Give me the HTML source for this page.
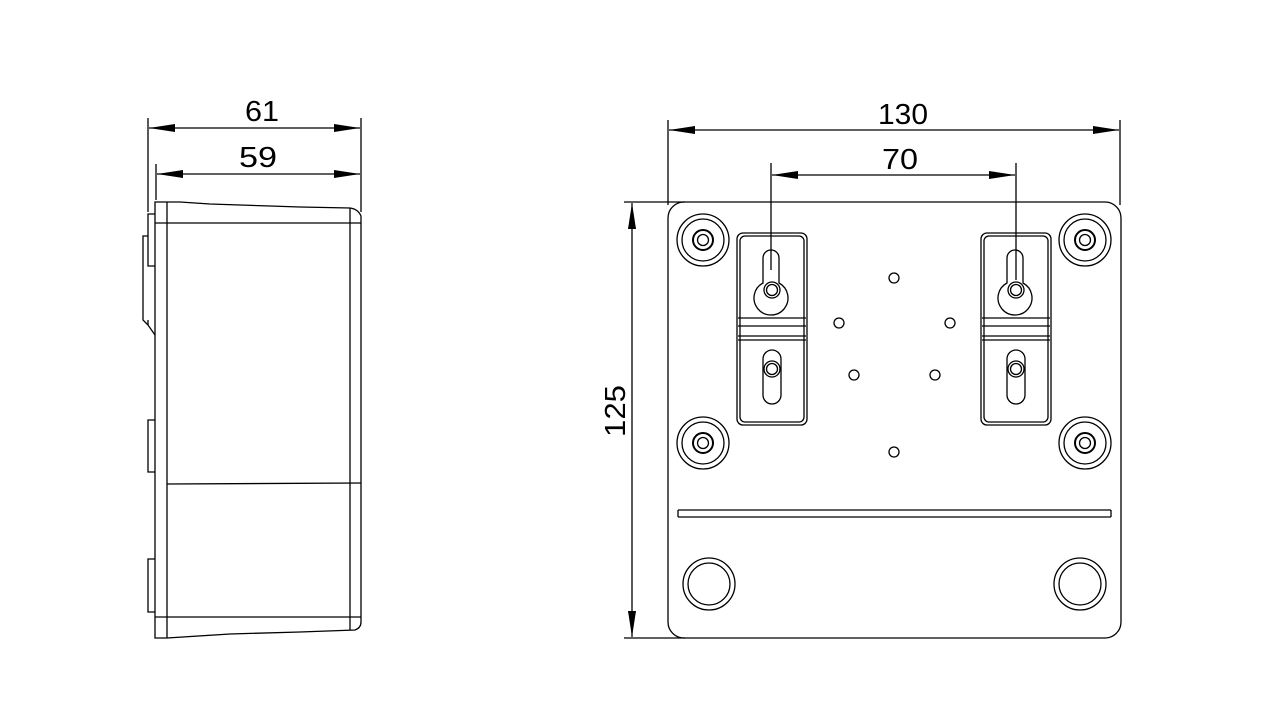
<!DOCTYPE html>
<html><head><style>body{margin:0;background:#fff}svg{display:block}</style></head><body>
<svg width="1281" height="720" viewBox="0 0 1281 720" xmlns="http://www.w3.org/2000/svg" font-family="Liberation Sans, sans-serif">
<defs><marker id="a" markerWidth="26" markerHeight="8" refX="26" refY="4" orient="auto" markerUnits="userSpaceOnUse"><path d="M0,0 L26,4 L0,8 Z" fill="#000"/></marker></defs>
<g stroke="#000" stroke-width="1.3" fill="none">
<!-- left view dims -->
<line x1="148" y1="118" x2="148" y2="212"/>
<line x1="156" y1="164" x2="156" y2="200"/>
<line x1="361" y1="118" x2="361" y2="212"/>
<line x1="254" y1="128" x2="149" y2="128" marker-end="url(#a)"/>
<line x1="254" y1="128" x2="360" y2="128" marker-end="url(#a)"/>
<line x1="258" y1="174" x2="157" y2="174" marker-end="url(#a)"/>
<line x1="258" y1="174" x2="360" y2="174" marker-end="url(#a)"/>
<!-- left body -->
<path d="M155,202 L180,202 L210,204 L240,205 L270,206 L300,207 L350,208 Q358,209 361,216 L361,622 Q361,628 355,630 L300,632 L230,634 L167,638 L155,638 Z"/>
<line x1="167" y1="202" x2="167" y2="638"/>
<line x1="350" y1="208" x2="350" y2="630"/>
<line x1="155" y1="223" x2="361" y2="223"/>
<line x1="167" y1="484" x2="361" y2="483"/>
<line x1="155" y1="617" x2="361" y2="617"/>
<path d="M155,214 L148,214 L148,266 L155,266"/>
<path d="M148,236 L143,236 L143,320 L148,325 L155,335"/>
<line x1="148" y1="325" x2="148" y2="320"/>
<path d="M155,420 L148,420 L148,472 L155,472"/>
<path d="M155,559 L148,559 L148,612 L155,612"/>
<!-- right view dims -->
<line x1="668" y1="120" x2="668" y2="205"/>
<line x1="1120" y1="120" x2="1120" y2="205"/>
<line x1="771" y1="163" x2="771" y2="270"/>
<line x1="1016" y1="163" x2="1016" y2="280"/>
<line x1="894" y1="130" x2="669" y2="130" marker-end="url(#a)"/>
<line x1="894" y1="130" x2="1119" y2="130" marker-end="url(#a)"/>
<line x1="894" y1="175" x2="772" y2="175" marker-end="url(#a)"/>
<line x1="894" y1="175" x2="1015" y2="175" marker-end="url(#a)"/>
<line x1="624" y1="202" x2="685" y2="202"/>
<line x1="624" y1="638" x2="685" y2="638"/>
<line x1="632" y1="420" x2="632" y2="203" marker-end="url(#a)"/>
<line x1="632" y1="420" x2="632" y2="637" marker-end="url(#a)"/>
<!-- plate -->
<rect x="668" y="202" width="453" height="436" rx="16"/>
<line x1="678" y1="510" x2="1111" y2="510"/><line x1="678" y1="517" x2="1111" y2="517"/>
<line x1="678" y1="510" x2="678" y2="517"/><line x1="1111" y1="510" x2="1111" y2="517"/>
<g id="m"><circle cx="703" cy="240" r="26"/><circle cx="703" cy="240" r="21"/><circle cx="703" cy="240" r="10" stroke-width="2"/><circle cx="703" cy="240" r="5.5"/></g>
<use href="#m" x="382"/><use href="#m" y="203"/><use href="#m" x="382" y="203"/>
<circle cx="709" cy="584" r="26"/><circle cx="709" cy="584" r="21"/>
<circle cx="1080" cy="584" r="26"/><circle cx="1080" cy="584" r="21"/>
<g id="b">
<rect x="737" y="233" width="70" height="192" rx="6"/>
<rect x="740" y="236" width="64" height="186" rx="5"/>
<line x1="738" y1="318" x2="806" y2="318"/><line x1="738" y1="326" x2="806" y2="326"/>
<line x1="738" y1="336" x2="806" y2="336"/><line x1="738" y1="340" x2="806" y2="340"/>
<path d="M763,283 L763,258 A8,8 0 0 1 779,258 L779,283 A17,17 0 1 1 763,283 Z"/>
<circle cx="772" cy="290" r="8"/><circle cx="772" cy="290" r="5.5"/>
<rect x="763" y="350" width="18" height="54" rx="9"/>
<circle cx="772" cy="369" r="8"/><circle cx="772" cy="369" r="5.5"/>
</g>
<use href="#b" x="244"/>
<circle cx="894" cy="278" r="5"/><circle cx="839" cy="323" r="5"/><circle cx="950" cy="323" r="5"/>
<circle cx="854" cy="375" r="5"/><circle cx="935" cy="375" r="5"/><circle cx="894" cy="452" r="5"/>
</g>
<g font-size="29" fill="#000" stroke="none" text-anchor="middle" font-weight="300">
<text x="262" y="121" textLength="34" lengthAdjust="spacingAndGlyphs">61</text>
<text x="258" y="167" textLength="38" lengthAdjust="spacingAndGlyphs">59</text>
<text x="903" y="124" textLength="50" lengthAdjust="spacingAndGlyphs">130</text>
<text x="900" y="169" textLength="36" lengthAdjust="spacingAndGlyphs">70</text>
<text transform="translate(625,411) rotate(-90)" textLength="52" lengthAdjust="spacingAndGlyphs">125</text>
</g>
</svg>
</body></html>
